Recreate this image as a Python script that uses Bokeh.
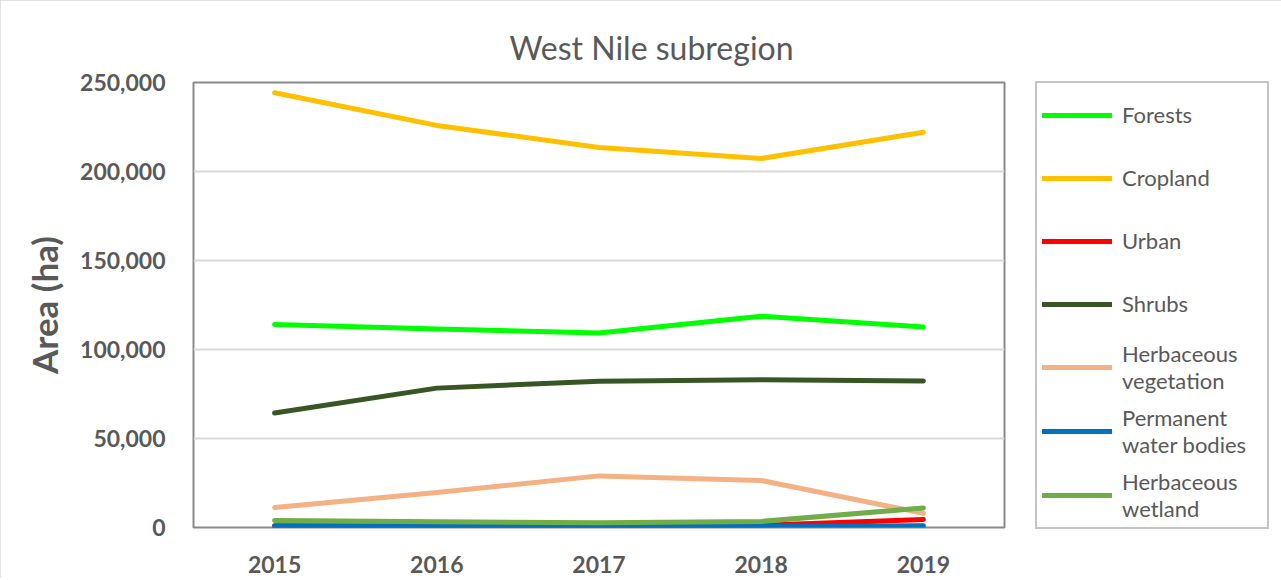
from bokeh.plotting import figure
from bokeh.models import (FactorRange, Range1d, NumeralTickFormatter, Legend, LegendItem,
                          FixedTicker, Title)
from bokeh.embed import file_html
from bokeh.resources import INLINE

# ---- data ----
years = ["2015", "2016", "2017", "2018", "2019"]
forests = [114000, 111500, 109300, 118700, 112600]
cropland = [244200, 225900, 213500, 207300, 222000]
urban = [1000, 1000, 1000, 1200, 4500]
shrubs = [64300, 78300, 82200, 83000, 82300]
herb_veg = [11200, 19600, 29000, 26400, 8000]
water = [800, 700, 600, 600, 1000]
wetland = [4000, 3200, 2600, 3400, 11000]

series_names = ["Forests", "Cropland", "Urban", "Shrubs", "Herbaceous\nvegetation",
                "Permanent\nwater bodies", "Herbaceous\nwetland"]
series_values = [forests, cropland, urban, shrubs, herb_veg, water, wetland]
series_colors = ["#00FF00", "#FFC000", "#FF0000", "#375623", "#F4B183", "#0070C0", "#70AD47"]
y_ticks = [0, 50000, 100000, 150000, 200000, 250000]

FONT = "Lato"
GREY = "#595959"

p = figure(x_range=FactorRange(*years, range_padding=0), y_range=Range1d(0, 250000),
           frame_width=811, frame_height=445, output_backend="svg", toolbar_location=None,
           min_border_left=193, min_border_right=0, min_border_top=82, min_border_bottom=51)

title = Title(text="West Nile subregion", align="left", offset=316,
              text_font=FONT, text_font_size="32px", text_font_style="normal",
              text_color=GREY, standoff=32)
p.add_layout(title, "above")

renderers = []
for vals, col in zip(series_values, series_colors):
    r = p.line(years, vals, line_color=col, line_width=5, line_cap="round", line_join="round")
    renderers.append(r)

# axes
p.yaxis.ticker = FixedTicker(ticks=y_ticks)
p.yaxis.formatter = NumeralTickFormatter(format="0,0")
for ax in (p.xaxis[0], p.yaxis[0]):
    ax.axis_line_color = None
    ax.major_tick_line_color = None
    ax.minor_tick_line_color = None
    ax.major_label_text_font = FONT
    ax.major_label_text_font_size = "23px"
    ax.major_label_text_font_style = "bold"
    ax.major_label_text_color = GREY
p.yaxis.major_label_standoff = 22
p.xaxis.major_label_standoff = 22
p.yaxis.axis_label = "Area (ha)"
p.yaxis.axis_label_text_font = FONT
p.yaxis.axis_label_text_font_size = "35px"
p.yaxis.axis_label_text_font_style = "bold"
p.yaxis.axis_label_text_color = GREY
p.yaxis.axis_label_standoff = 12

p.xgrid.grid_line_color = None
p.ygrid.grid_line_color = "#D9D9D9"
p.ygrid.grid_line_width = 2
p.outline_line_color = "#898989"
p.outline_line_width = 2

legend = Legend(items=[LegendItem(label=n, renderers=[r]) for n, r in zip(series_names, renderers)],
                location=(31, -2), padding=5, spacing=10, label_height=53, glyph_height=20,
                glyph_width=70, label_standoff=10, label_width=140,
                label_text_font=FONT, label_text_font_size="22px", label_text_color=GREY,
                border_line_color="#898989", border_line_width=2, background_fill_alpha=0)
p.add_layout(legend, "right")

p.styles = {"outline": "1px solid #D9D9D9", "outline-offset": "-1px"}

open("out.html", "w").write(file_html(p, INLINE))
